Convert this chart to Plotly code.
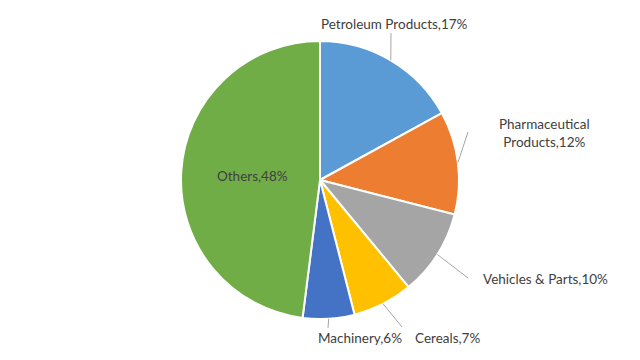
import math
import plotly.graph_objects as go

# ---- data ----
categories = ["Petroleum Products", "Pharmaceutical Products", "Vehicles & Parts",
              "Cereals", "Machinery", "Others"]
shares = [17, 12, 10, 7, 6, 48]
label_texts = ["Petroleum Products,17%", "Pharmaceutical<br>Products,12%",
               "Vehicles & Parts,10%", "Cereals,7%", "Machinery,6%", "Others,48%"]
colors = ["#5B9BD5", "#ED7D31", "#A5A5A5", "#FFC000", "#4472C4", "#70AD47"]

# ---- layout (pixels) ----
W, H = 640, 360
CX, CY, R = 320, 180, 139
# label centre positions and leader-line end points (pixels); None = inside label
label_pos = [(394, 24), (544, 133), (545, 279), (447, 338), (360, 338), None]
line_end = [(391, 33), (468, 132), (468, 278), (402, 327), (328, 328), None]

def px(x):
    return x / W

def py(y):
    return 1 - y / H

fig = go.Figure(go.Pie(
    labels=categories, values=shares, sort=False, direction="clockwise", rotation=0,
    marker=dict(colors=colors, line=dict(color="white", width=2)),
    textinfo="none", hoverinfo="label+percent", showlegend=False,
    domain=dict(x=[px(CX - R), px(CX + R)], y=[py(CY + R), py(CY - R)]),
))

total = sum(shares)
cum = 0
annotations = []
shapes = []
font = dict(family="Lato, Calibri, sans-serif", size=13.5, color="#404040")
for i, v in enumerate(shares):
    mid = (cum + v / 2) / total * 2 * math.pi
    cum += v
    if label_pos[i] is None:
        rr = 0.49 * R
        x, y = CX + rr * math.sin(mid), CY - rr * math.cos(mid)
        annotations.append(dict(x=px(x), y=py(y), xref="paper", yref="paper",
                                xanchor="center", yanchor="middle",
                                text=label_texts[i], showarrow=False, font=font))
        continue
    ex, ey = CX + R * math.sin(mid), CY - R * math.cos(mid)
    lx, ly = line_end[i]
    shapes.append(dict(type="line", xref="paper", yref="paper",
                       x0=px(ex), y0=py(ey), x1=px(lx), y1=py(ly),
                       line=dict(color="#A6A6A6", width=1)))
    tx, ty = label_pos[i]
    annotations.append(dict(x=px(tx), y=py(ty), xref="paper", yref="paper",
                            xanchor="center", yanchor="middle",
                            text=label_texts[i], showarrow=False, font=font,
                            align="center"))

fig.update_layout(
    width=W, height=H, margin=dict(l=0, r=0, t=0, b=0),
    paper_bgcolor="white", plot_bgcolor="white",
    annotations=annotations, shapes=shapes,
)

fig.write_html("out.html", config={"displayModeBar": False},
               post_script="document.body.style.margin='0';")
